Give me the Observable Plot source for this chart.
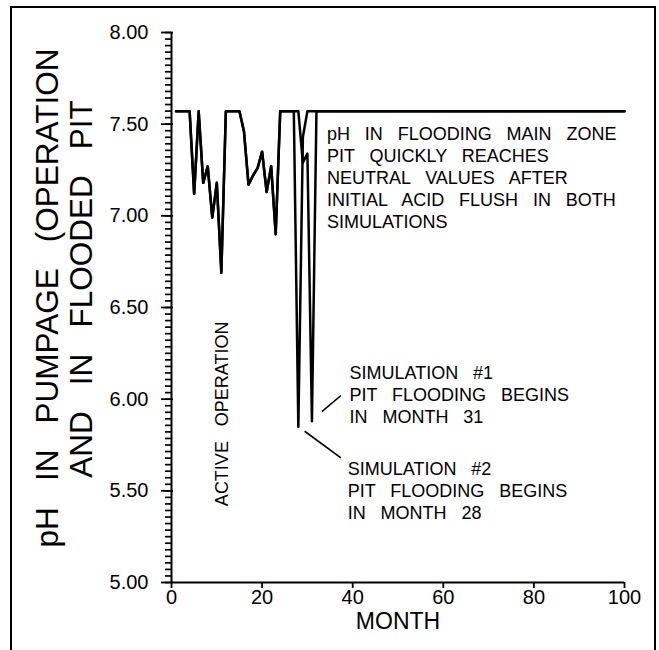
<!DOCTYPE html>
<html>
<head>
<meta charset="utf-8">
<script src="https://cdn.jsdelivr.net/npm/d3@7"></script>
<script src="https://cdn.jsdelivr.net/npm/@observablehq/plot@0.6"></script>
<style>
  html, body { margin: 0; padding: 0; background: #fff; }
  #wrap { position: relative; width: 659px; height: 650px; overflow: hidden; }
  #wrap svg { position: absolute; left: 0; top: 0; }
  #wrap svg text { word-spacing: 0.55em; }
  #box { position: absolute; left: 9.5px; top: 5.5px; width: 646px; height: 720px;
         border: 2.5px solid #000; box-sizing: border-box; pointer-events: none; }
</style>
</head>
<body>
<div id="wrap"><div id="box"></div></div>
<script>
// Active mining operation (shared by both simulations), monthly pumpage pH
const activeMonth = [1, 2, 3, 4, 5, 6, 7, 8, 9, 10, 11, 12, 13, 14, 15, 16, 17, 18, 19, 20, 21, 22, 23, 24, 25, 26, 27];
const activePH    = [7.57, 7.57, 7.57, 7.57, 7.12, 7.57, 7.18, 7.27, 6.99, 7.18, 6.69, 7.57, 7.57, 7.57,
                     7.57, 7.46, 7.17, 7.22, 7.26, 7.35, 7.13, 7.27, 6.90, 7.57, 7.57, 7.57, 7.57];

// Simulation #1: pit flooding begins in month 31
const sim1Month = [28, 29, 30, 31, 32, 100];
const sim1PH    = [7.57, 7.29, 7.34, 5.88, 7.57, 7.57];

// Simulation #2: pit flooding begins in month 28
const sim2Month = [28, 29, 30, 100];
const sim2PH    = [5.85, 7.43, 7.57, 7.57];

const seriesNames = ["Simulation #1", "Simulation #2"];

// Axis ticks
const xTicks = [0, 20, 40, 60, 80, 100];
const yTicks = [5.0, 5.5, 6.0, 6.5, 7.0, 7.5, 8.0];
const yMinorTicks = d3.range(0, 85).map(i => 5 + i * 0.5 / 14);

// Annotations
const noteText = [
  "pH IN FLOODING MAIN ZONE\nPIT QUICKLY REACHES\nNEUTRAL VALUES AFTER\nINITIAL ACID FLUSH IN BOTH\nSIMULATIONS",
  "SIMULATION #1\nPIT FLOODING BEGINS\nIN MONTH 31",
  "SIMULATION #2\nPIT FLOODING BEGINS\nIN MONTH 28"
];
const noteMonth = [34.3, 39.3, 38.9];
const notePH = [7.214, 6.03, 5.507];

const leaderMonth1 = [33.2, 29.4];
const leaderPH1 = [5.932, 5.825];
const leaderMonth2 = [37.4, 37.4];
const leaderPH2 = [6.02, 5.68];

const phaseText = ["ACTIVE OPERATION"];
const phaseMonth = [11.3];
const phasePH = [5.92];

const yLabel = ["pH IN PUMPAGE (OPERATION", "AND IN FLOODED PIT"];
const xLabel = "MONTH";

// Long-format table for the line mark
const rows = [];
[[activeMonth.concat(sim1Month), activePH.concat(sim1PH)],
 [activeMonth.concat(sim2Month), activePH.concat(sim2PH)]].forEach(([m, p], i) => {
  m.forEach((month, j) => rows.push({series: seriesNames[i], month, ph: p[j]}));
});

const notes = noteText.map((text, i) => ({text, month: noteMonth[i], ph: notePH[i]}));
const leaders = leaderMonth1.map((m, i) => ({m1: m, p1: leaderPH1[i], m2: leaderMonth2[i], p2: leaderPH2[i]}));
const phases = phaseText.map((text, i) => ({text, month: phaseMonth[i], ph: phasePH[i]}));

const font = "'Liberation Sans', Arial, Helvetica, sans-serif";
const W = 659, H = 650, ML = 171, MR = 35, MT = 32, MB = 68;
const frameW = W - ML - MR;

const chart = Plot.plot({
  width: W,
  height: H,
  marginLeft: ML,
  marginRight: MR,
  marginTop: MT,
  marginBottom: MB,
  x: {domain: [0, 100]},
  y: {domain: [5, 8]},
  style: {fontFamily: font, color: "#000", background: "transparent", overflow: "visible"},
  marks: [
    // y axis: short minor ticks on the outside, longer major ticks crossing the axis
    Plot.ruleY(yMinorTicks, {insetRight: frameW - 6, dx: -6, strokeWidth: 1.7}),
    Plot.ruleY(yTicks, {insetRight: frameW - 12, dx: -10, strokeWidth: 1.8}),
    Plot.axisY({ticks: yTicks, tickSize: 0, tickPadding: 23, tickFormat: d => d.toFixed(2), fontSize: 20, label: null}),
    // x axis
    Plot.axisX({ticks: xTicks, tickSize: 6, tickPadding: 1, fontSize: 20, label: null, strokeWidth: 1.8}),
    Plot.ruleY([5], {strokeWidth: 2}),
    Plot.ruleX([0], {strokeWidth: 2}),
    // pH curves
    Plot.line(rows, {x: "month", y: "ph", z: "series", stroke: "#000", strokeWidth: 2.5}),
    // annotations
    Plot.text(notes, {x: "month", y: "ph", text: "text", textAnchor: "start", lineAnchor: "middle",
                      lineHeight: 1.22, fontSize: 18}),
    Plot.link(leaders, {x1: "m1", y1: "p1", x2: "m2", y2: "p2", stroke: "#000", strokeWidth: 1.6}),
    Plot.text(phases, {x: "month", y: "ph", text: "text", rotate: -90, fontSize: 18}),
    // axis titles
    Plot.text([yLabel[0]], {frameAnchor: "left", textAnchor: "middle", dx: -124, dy: -9.5, rotate: -90, fontSize: 31.5}),
    Plot.text([yLabel[1]], {frameAnchor: "left", textAnchor: "middle", dx: -90, dy: -18.5, rotate: -90, fontSize: 31.5}),
    Plot.text([xLabel], {frameAnchor: "bottom", dy: 46, fontSize: 23})
  ]
});

document.getElementById("wrap").prepend(chart);
</script>
</body>
</html>
